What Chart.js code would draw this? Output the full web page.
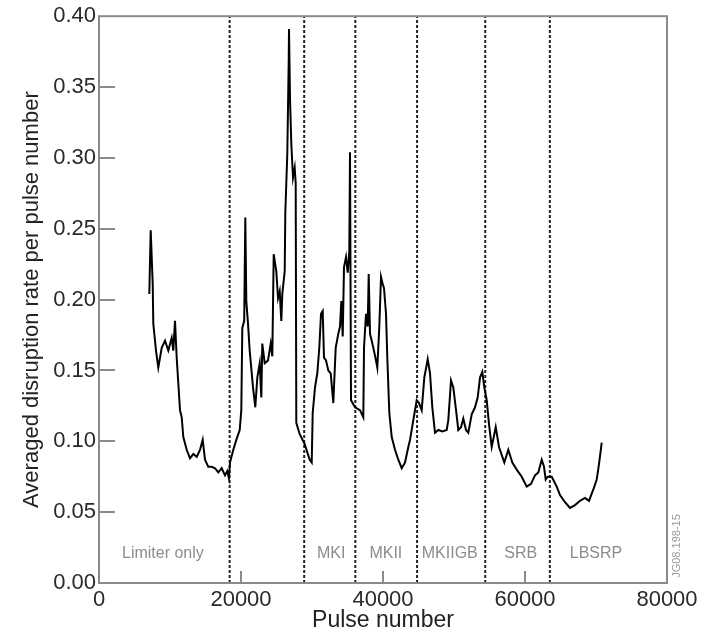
<!DOCTYPE html>
<html><head><meta charset="utf-8">
<script src="https://cdn.jsdelivr.net/npm/chart.js@4"></script>
<style>html,body{margin:0;padding:0;background:#fff;} canvas{display:block;}</style>
</head><body>
<canvas id="c" width="705" height="635"></canvas>
<script>
// ---- data ----
const pulses = [
  7085, 7282, 7423, 7564, 7648, 8028, 8352, 8831, 9296, 9761, 10240, 10465, 10705, 10944, 11170, 11409,
  11648, 11874, 12353, 12817, 13282, 13761, 14226, 14606, 14930, 15395, 15874, 16339, 16803, 17282, 17747,
  18071, 18300, 18451, 18916, 19339, 19817, 20043, 20184, 20450, 20606, 20747, 20987, 21226, 21691, 22015,
  22297, 22635, 22860, 23001, 23339, 23804, 24184, 24410, 24607, 24973, 25212, 25452, 25677, 25818, 26156,
  26240, 26522, 26719, 26761, 26902, 27085, 27325, 27564, 27705, 27789, 28268, 28972, 29677, 29958,
  30099, 30423, 30747, 31029, 31269, 31508, 31691, 31973, 32297, 32635, 33001, 33339, 33705, 33945, 34128,
  34325, 34508, 34790, 35029, 35255, 35353, 35494, 36058, 36762, 37227, 37325, 37607, 37846, 37987, 38171,
  38410, 38635, 39015, 39199, 39480, 39720, 39959, 40142, 40424, 40607, 40889, 41227, 41692, 42156, 42635,
  43100, 43565, 43805, 44269, 44748, 45072, 45452, 45818, 46297, 46621, 46945, 47326, 47791, 48354, 48974,
  49199, 49579, 49903, 50241, 50607, 50988, 51312, 51692, 52016, 52495, 52960, 53340, 53664, 53988, 54270,
  54608, 54932, 55312, 55876, 56340, 57087, 57650, 58213, 58833, 59537, 60242, 60847, 61410, 61875, 62354,
  62678, 62917, 63199, 63763, 64467, 64932, 65636, 66340, 67045, 67749, 68453, 69017, 69622, 70101, 70425,
  70805
];
const rates = [
  0.204, 0.249, 0.230, 0.211, 0.183, 0.164, 0.152, 0.166, 0.171, 0.164, 0.173, 0.164, 0.185, 0.159, 0.141, 0.122,
  0.117, 0.103, 0.094, 0.088, 0.091, 0.089, 0.094, 0.101, 0.087, 0.082, 0.082, 0.081, 0.078, 0.081, 0.076,
  0.079, 0.074, 0.085, 0.094, 0.101, 0.108, 0.122, 0.180, 0.185, 0.258, 0.199, 0.183, 0.164, 0.138, 0.124,
  0.145, 0.155, 0.131, 0.169, 0.155, 0.157, 0.169, 0.160, 0.232, 0.220, 0.201, 0.206, 0.185, 0.204, 0.220,
  0.261, 0.303, 0.368, 0.391, 0.342, 0.310, 0.286, 0.293, 0.282, 0.113, 0.105, 0.098, 0.087, 0.085,
  0.120, 0.138, 0.148, 0.166, 0.190, 0.192, 0.159, 0.157, 0.150, 0.148, 0.127, 0.166, 0.176, 0.181, 0.199,
  0.174, 0.223, 0.230, 0.219, 0.234, 0.304, 0.129, 0.124, 0.122, 0.117, 0.166, 0.190, 0.181, 0.218, 0.176,
  0.171, 0.166, 0.157, 0.152, 0.181, 0.216, 0.211, 0.208, 0.190, 0.159, 0.120, 0.103, 0.094, 0.087, 0.081,
  0.085, 0.096, 0.101, 0.115, 0.129, 0.127, 0.122, 0.145, 0.158, 0.148, 0.124, 0.106, 0.108, 0.107, 0.108,
  0.115, 0.143, 0.138, 0.124, 0.108, 0.110, 0.116, 0.108, 0.106, 0.119, 0.124, 0.131, 0.145, 0.149, 0.138,
  0.129, 0.112, 0.096, 0.110, 0.096, 0.085, 0.094, 0.085, 0.080, 0.075, 0.068, 0.070, 0.076, 0.078, 0.087,
  0.082, 0.073, 0.075, 0.075, 0.068, 0.062, 0.057, 0.053, 0.055, 0.058, 0.060, 0.058, 0.066, 0.073, 0.084,
  0.099
];
const regionBounds = [18400, 28900, 36100, 44800, 54400, 63500];
const regionNames = ['Limiter only', 'MKI', 'MKII', 'MKIIGB', 'SRB', 'LBSRP'];
const regionLabelPulse = [9000, 32700, 40400, 49400, 59400, 70000];
const regionLabelRate = 0.021;
const xTickValues = [0, 20000, 40000, 60000, 80000];
const yTickValues = [0, 0.05, 0.10, 0.15, 0.20, 0.25, 0.30, 0.35, 0.40];
const figureCode = 'JG08.198-15';

// ---- chart ----
const FONT = "'Liberation Sans', Arial, Helvetica, sans-serif";

const datasets = [{
  data: pulses.map((p, i) => ({ x: p, y: rates[i] })),
  borderColor: '#000', borderWidth: 2, pointRadius: 0, showLine: true, tension: 0
}].concat(regionBounds.map(b => ({
  data: [{ x: b, y: 0 }, { x: b, y: 0.4 }],
  borderColor: '#222', borderWidth: 2, borderDash: [3, 2], pointRadius: 0, showLine: true
})));

const decorPlugin = {
  id: 'decor',
  afterDatasetsDraw(chart) {
    const { ctx, chartArea: a, scales } = chart;
    const xs = scales.x, ys = scales.y;
    ctx.save();
    // inward tick marks
    ctx.strokeStyle = '#8a8a8a';
    ctx.lineWidth = 2;
    ctx.beginPath();
    yTickValues.forEach(v => {
      if (v <= 0 || v >= 0.4) return;
      const py = Math.round(ys.getPixelForValue(v));
      ctx.moveTo(a.left, py); ctx.lineTo(a.left + 16, py);
    });
    xTickValues.forEach(v => {
      if (v <= 0 || v >= 80000) return;
      const px = Math.round(xs.getPixelForValue(v));
      ctx.moveTo(px, a.bottom); ctx.lineTo(px, a.bottom - 12);
    });
    ctx.stroke();
    // frame
    ctx.strokeRect(a.left, a.top, a.right - a.left, a.bottom - a.top);
    // region labels
    ctx.fillStyle = '#8c8c8c';
    ctx.font = '16px ' + FONT;
    ctx.textAlign = 'center';
    ctx.textBaseline = 'middle';
    const ly = ys.getPixelForValue(regionLabelRate);
    regionNames.forEach((n, i) => ctx.fillText(n, xs.getPixelForValue(regionLabelPulse[i]), ly));
    // figure code, rotated
    ctx.translate(a.right + 10, a.bottom - 37);
    ctx.rotate(-Math.PI / 2);
    ctx.fillStyle = '#999';
    ctx.font = '11px ' + FONT;
    ctx.fillText(figureCode, 0, 0);
    ctx.restore();
  }
};

new Chart(document.getElementById('c'), {
  type: 'scatter',
  data: { datasets },
  options: {
    responsive: false,
    animation: false,
    layout: { padding: { left: 0, right: 38, top: 15, bottom: 0 } },
    plugins: { legend: { display: false }, tooltip: { enabled: false } },
    scales: {
      x: {
        type: 'linear', min: 0, max: 80000,
        afterBuildTicks: s => { s.ticks = xTickValues.map(v => ({ value: v })); },
        afterFit: s => { s.height = 52; },
        grid: { display: false, drawTicks: false },
        border: { display: false },
        ticks: { padding: 4, color: '#2a2a2a', font: { family: FONT, size: 22 }, maxRotation: 0,
                 callback: v => String(v) },
        title: { display: true, text: 'Pulse number', color: '#222',
                 font: { family: FONT, size: 23, lineHeight: 1 }, padding: { top: 0, bottom: 3 } }
      },
      y: {
        type: 'linear', min: 0, max: 0.4,
        afterBuildTicks: s => { s.ticks = yTickValues.map(v => ({ value: v })); },
        afterFit: s => { s.width = 99; },
        grid: { display: false, drawTicks: false },
        border: { display: false },
        ticks: { padding: 3, color: '#2a2a2a', font: { family: FONT, size: 22 },
                 callback: v => v.toFixed(2) },
        title: { display: true, text: 'Averaged disruption rate per pulse number', color: '#222',
                 font: { family: FONT, size: 22, lineHeight: 1 }, padding: { top: 21, bottom: 0 } }
      }
    }
  },
  plugins: [decorPlugin]
});
</script>
</body></html>
